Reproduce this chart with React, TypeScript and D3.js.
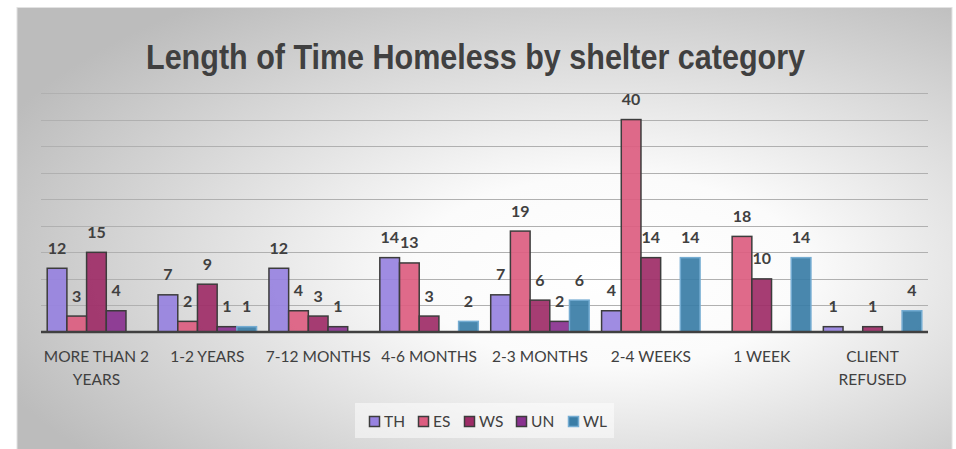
import React from "react";
import * as d3 from "d3";

const categories = [
  "MORE THAN 2 YEARS",
  "1-2 YEARS",
  "7-12 MONTHS",
  "4-6 MONTHS",
  "2-3 MONTHS",
  "2-4 WEEKS",
  "1 WEEK",
  "CLIENT REFUSED",
];
const tickLabels: string[][] = [
  ["MORE THAN 2", "YEARS"],
  ["1-2 YEARS"],
  ["7-12 MONTHS"],
  ["4-6 MONTHS"],
  ["2-3 MONTHS"],
  ["2-4 WEEKS"],
  ["1 WEEK"],
  ["CLIENT", "REFUSED"],
];
const seriesNames = ["TH", "ES", "WS", "UN", "WL"];
const TH: (number | null)[] = [12, 7, 12, 14, 7, 4, null, 1];
const ES: (number | null)[] = [3, 2, 4, 13, 19, 40, 18, null];
const WS: (number | null)[] = [15, 9, 3, 3, 6, 14, 10, 1];
const UN: (number | null)[] = [4, 1, 1, null, 2, null, null, null];
const WL: (number | null)[] = [null, 1, null, 2, 6, 14, 14, 4];
const seriesValues = [TH, ES, WS, UN, WL];
const gridTicks = [5, 10, 15, 20, 25, 30, 35, 40, 45];
const title = "Length of Time Homeless by shelter category";

const fills = ["#9782e0", "#dc5d80", "#9e2c67", "#89318f", "#3a7da6"];
const strokes = ["#3c3c3c", "#3c3c3c", "#3c3c3c", "#3c3c3c", "#74acd2"];

const W = 956;
const H = 449;
const labelFont = "Lato, 'Open Sans', sans-serif";

export default function App() {
  const x = d3
    .scaleBand<string>()
    .domain(categories)
    .range([41, 928])
    .paddingInner(0.112)
    .paddingOuter(0.056);
  const xs = d3
    .scaleBand<string>()
    .domain(seriesNames)
    .range([0, x.bandwidth()]);
  const y = d3.scaleLinear().domain([0, 45]).range([332, 93]);

  const legendItemX = [369, 418, 464, 516, 568];

  return (
    <svg
      width={W}
      height={H}
      style={{ position: "fixed", left: 0, top: 0 }}
      xmlns="http://www.w3.org/2000/svg"
    >
      <defs>
        <radialGradient id="bg" cx="0.62" cy="0.55" r="0.7" fx="0.64" fy="0.6">
          <stop offset="0" stopColor="#ffffff" />
          <stop offset="0.3" stopColor="#fbfbfb" />
          <stop offset="1" stopColor="#bcbcbc" />
        </radialGradient>
      </defs>
      <rect x={0} y={0} width={W} height={H} fill="#ffffff" />
      <rect
        x={17}
        y={7.5}
        width={935}
        height={450}
        fill="url(#bg)"
        stroke="#e2e2e2"
        strokeWidth={1}
      />
      <text
        x={475.5}
        y={69}
        textAnchor="middle"
        fontFamily="'Liberation Sans', Arial, sans-serif"
        fontWeight="bold"
        fontSize={35}
        fill="#404040"
        textLength={659}
        lengthAdjust="spacingAndGlyphs"
      >
        {title}
      </text>

      {gridTicks.map((t) => (
        <line
          key={t}
          x1={41}
          x2={928}
          y1={Math.round(y(t)) + 0.5}
          y2={Math.round(y(t)) + 0.5}
          stroke="#b0b0b0"
          strokeWidth={1}
        />
      ))}

      {categories.map((c, ci) => (
        <g key={c} transform={`translate(${x(c)},0)`}>
          {seriesNames.map((s, si) => {
            const v = seriesValues[si][ci];
            if (v == null) return null;
            const bx = xs(s)!;
            const bw = xs.bandwidth();
            return (
              <rect
                key={s}
                x={bx}
                y={y(v)}
                width={bw}
                height={y(0) - y(v)}
                fill={fills[si]}
                fillOpacity={0.92}
                stroke={strokes[si]}
                strokeWidth={1.5}
              />
            );
          })}
        </g>
      ))}

      <line x1={41} x2={928} y1={y(0)} y2={y(0)} stroke="#404040" strokeWidth={2.5} />

      {categories.map((c, ci) => (
        <g key={c + "l"} transform={`translate(${x(c)},0)`}>
          {seriesNames.map((s, si) => {
            const v = seriesValues[si][ci];
            if (v == null) return null;
            return (
              <text
                key={s}
                x={xs(s)! + xs.bandwidth() / 2}
                y={y(v) - 14.5}
                textAnchor="middle"
                fontFamily={labelFont}
                fontWeight="bold"
                fontSize={16}
                fill="#404040"
              >
                {v}
              </text>
            );
          })}
        </g>
      ))}

      {categories.map((c, ci) => (
        <text
          key={c + "t"}
          x={x(c)! + x.bandwidth() / 2}
          y={362.3}
          textAnchor="middle"
          fontFamily={labelFont}
          fontSize={15.5}
          fill="#404040"
        >
          {tickLabels[ci].map((line, li) => (
            <tspan key={li} x={x(c)! + x.bandwidth() / 2} dy={li === 0 ? 0 : 22.7}>
              {line}
            </tspan>
          ))}
        </text>
      ))}

      <rect x={355} y={403} width={259} height={35} fill="#ffffff" fillOpacity={0.5} />
      {seriesNames.map((s, si) => (
        <g key={s + "g"}>
          <rect
            x={legendItemX[si] + 0.5}
            y={416.5}
            width={10}
            height={10}
            fill={fills[si]}
            stroke={strokes[si]}
            strokeWidth={1.5}
          />
          <text
            x={legendItemX[si] + 15}
            y={426.7}
            fontFamily={labelFont}
            fontSize={15.5}
            fill="#404040"
          >
            {s}
          </text>
        </g>
      ))}
    </svg>
  );
}
